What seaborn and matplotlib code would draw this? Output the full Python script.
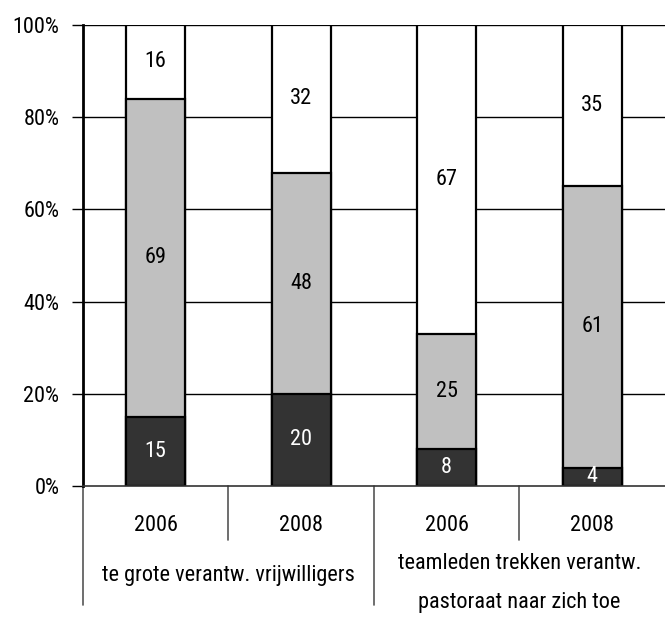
import pandas as pd
import seaborn as sns
import matplotlib.pyplot as plt

plt.switch_backend("Agg")

# Data (percentages, bottom to top)
groups = ["te grote verantw. vrijwilligers", "teamleden trekken verantw.\npastoraat naar zich toe"]
years = ["2006", "2008", "2006", "2008"]
dark = [15, 20, 8, 4]
light = [69, 48, 25, 61]
white = [16, 32, 67, 35]
yticks = [0, 20, 40, 60, 80, 100]

FONT = ["Roboto Condensed", "DejaVu Sans"]
FS = 16
DARK_COLOR = "#333333"
LIGHT_COLOR = "#c0c0c0"


def build_frame():
    """Cumulative heights so the layers can be drawn back to front."""
    bars = [f"bar{i}" for i in range(len(years))]
    df = pd.DataFrame({"bar": bars, "dark": dark, "light": light, "white": white})
    df["cum_light"] = df["dark"] + df["light"]
    df["cum_white"] = df["cum_light"] + df["white"]
    return df


def draw_chart(df):
    sns.set_theme(style="white")
    plt.rcParams["font.family"] = FONT
    plt.rcParams["text.color"] = "black"
    plt.rcParams["ytick.color"] = "black"

    fig = plt.figure(figsize=(6.65, 6.19), dpi=100)
    ax = fig.add_axes([0.1248, 0.2149, 0.8752, 0.7447])

    for y in yticks[1:]:
        ax.axhline(y, color="black", lw=1, zorder=0)

    layers = [("cum_white", "white"), ("cum_light", LIGHT_COLOR), ("dark", DARK_COLOR)]
    for col, color in layers:
        sns.barplot(data=df, x="bar", y=col, color=color, width=0.405,
                    edgecolor="black", linewidth=1.6, saturation=1, ax=ax, zorder=2)

    # segment labels
    for i, row in df.iterrows():
        ax.text(i, row["dark"] / 2, str(row["dark"]), ha="center", va="center",
                color="white", fontsize=FS, zorder=3)
        ax.text(i, row["dark"] + row["light"] / 2, str(row["light"]), ha="center",
                va="center", fontsize=FS, zorder=3)
        ax.text(i, row["cum_light"] + row["white"] / 2, str(row["white"]), ha="center",
                va="center", fontsize=FS, zorder=3)

    ax.set_xlim(-0.5, 3.5)
    ax.set_ylim(0, 100)
    ax.set_yticks(yticks)
    ax.set_yticklabels([f"{y}%" for y in yticks], fontsize=FS)
    ax.tick_params(axis="y", length=8, width=1, color="black", labelcolor="black",
                   pad=9, left=True)
    ax.set_xticks([])
    ax.set_xlabel("")
    ax.set_ylabel("")

    for side in ["top", "right"]:
        ax.spines[side].set_visible(False)
    ax.spines["left"].set_linewidth(2)
    ax.spines["left"].set_color("black")
    ax.spines["bottom"].set_linewidth(1.2)
    ax.spines["bottom"].set_color("#333333")

    # category table under the axis
    trans = ax.get_xaxis_transform()
    line_kw = dict(color="#555555", lw=1.2, transform=trans, clip_on=False)
    ax.plot([-0.5, -0.5], [0, -0.258], **line_kw)
    ax.plot([1.5, 1.5], [0, -0.258], **line_kw)
    ax.plot([0.5, 0.5], [0, -0.117], **line_kw)
    ax.plot([2.5, 2.5], [0, -0.117], **line_kw)

    for i, year in enumerate(years):
        ax.text(i, -0.085, year, transform=trans, ha="center", va="center", fontsize=FS)
    ax.text(0.5, -0.195, groups[0], transform=trans, ha="center", va="center", fontsize=FS)
    ax.text(2.5, -0.211, groups[1], transform=trans, ha="center", va="center",
            fontsize=FS, linespacing=2.15)

    fig.savefig("out.png", dpi=100)


def main():
    df = build_frame()
    draw_chart(df)


if __name__ == "__main__":
    main()
